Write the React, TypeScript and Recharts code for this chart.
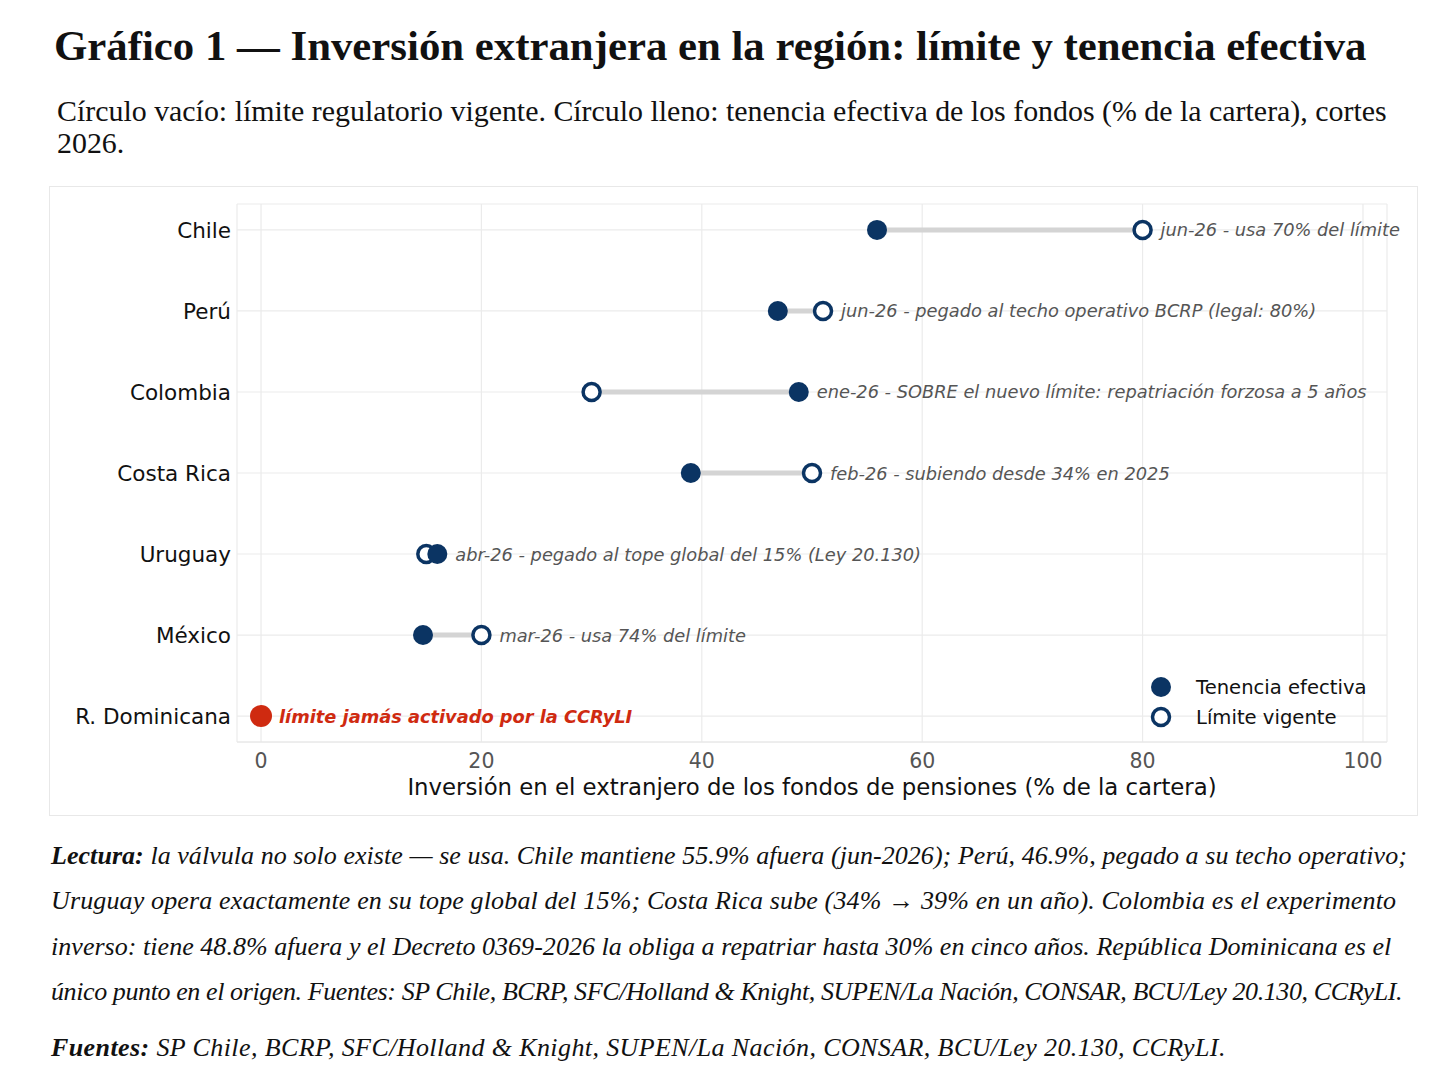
import React from "react";
import {
  ScatterChart,
  Scatter,
  XAxis,
  YAxis,
  CartesianGrid,
} from "recharts";

// Datos (cortes 2026, % de la cartera)
const PAISES = ["Chile", "Perú", "Colombia", "Costa Rica", "Uruguay", "México", "R. Dominicana"];
const TENENCIA = [55.9, 46.9, 48.8, 39.0, 16.0, 14.7, 0];
const LIMITE: (number | null)[] = [80, 51, 30, 50, 15, 20, null];
const NOTAS = [
  "jun-26 - usa 70% del límite",
  "jun-26 - pegado al techo operativo BCRP (legal: 80%)",
  "ene-26 - SOBRE el nuevo límite: repatriación forzosa a 5 años",
  "feb-26 - subiendo desde 34% en 2025",
  "abr-26 - pegado al tope global del 15% (Ley 20.130)",
  "mar-26 - usa 74% del límite",
  "límite jamás activado por la CCRyLI",
];
const X_TICKS = [0, 20, 40, 60, 80, 100];
const SIN_LIMITE = 6; // R. Dominicana

const NAVY = "#0b3463";
const RED = "#cf2a10";
const SERIF = "'Liberation Serif', 'DejaVu Serif', serif";
const SANS = "'DejaVu Sans', sans-serif";

const tenenciaData = PAISES.map((p, i) => ({ x: TENENCIA[i], y: i, pais: p })).filter((d) => d.y !== SIN_LIMITE);
const limiteData = PAISES.map((p, i) => ({ x: LIMITE[i], y: i, pais: p })).filter((d) => d.x !== null);
const origenData = [{ x: TENENCIA[SIN_LIMITE], y: SIN_LIMITE }];
const notaData = PAISES.map((p, i) => ({
  x: Math.max(TENENCIA[i], LIMITE[i] ?? TENENCIA[i]),
  y: i,
  nota: NOTAS[i],
}));

const Lleno = (props: any) => <circle cx={props.cx} cy={props.cy} r={10} fill={NAVY} />;
const Vacio = (props: any) => (
  <circle cx={props.cx} cy={props.cy} r={8.5} fill="#fff" stroke={NAVY} strokeWidth={3.5} />
);
const Origen = (props: any) => <circle cx={props.cx} cy={props.cy} r={11} fill={RED} />;
const Nada = () => <g />;
const Nota = (props: any) => {
  const rd = props.payload.y === SIN_LIMITE;
  return (
    <text
      x={props.cx + 18}
      y={props.cy}
      dominantBaseline="central"
      fontStyle="italic"
      fontWeight={rd ? "bold" : "normal"}
      fontSize={17.8}
      fill={rd ? RED : "#555"}
      fontFamily={SANS}
    >
      {props.payload.nota}
    </text>
  );
};

const Leyenda = () => (
  <svg width={260} height={60} style={{ position: "absolute", left: 1150, top: 676 }}>
    <circle cx={11} cy={11} r={10} fill={NAVY} />
    <text x={46} y={11} dominantBaseline="central" fontSize={19.6} fill="#111" fontFamily={SANS}>
      Tenencia efectiva
    </text>
    <circle cx={11} cy={41} r={8.5} fill="#fff" stroke={NAVY} strokeWidth={3.5} />
    <text x={46} y={41} dominantBaseline="central" fontSize={19.6} fill="#111" fontFamily={SANS}>
      Límite vigente
    </text>
  </svg>
);

const linea = (ls: number): React.CSSProperties => ({ display: "block", letterSpacing: `${ls}px` });

export default function App() {
  return (
    <div style={{ position: "absolute", left: 0, top: 0, width: 1448, height: 1086, background: "#fff" }}>
      <div
        style={{
          position: "absolute",
          left: 54,
          top: 24,
          fontFamily: SERIF,
          fontWeight: "bold",
          fontSize: 42.8,
          lineHeight: "44px",
          color: "#111",
          whiteSpace: "nowrap",
        }}
      >
        Gráfico 1 — Inversión extranjera en la región: límite y tenencia efectiva
      </div>
      <div
        style={{
          position: "absolute",
          left: 57,
          top: 95,
          fontFamily: SERIF,
          fontSize: 29.9,
          lineHeight: "32px",
          color: "#111",
          whiteSpace: "nowrap",
        }}
      >
        Círculo vacío: límite regulatorio vigente. Círculo lleno: tenencia efectiva de los fondos (% de la cartera), cortes
        <br />
        2026.
      </div>

      <div
        style={{
          position: "absolute",
          left: 49,
          top: 186,
          width: 1367,
          height: 628,
          border: "1px solid #e8e8e8",
          fontFamily: SANS,
        }}
      >
        <ScatterChart
          width={1367}
          height={628}
          margin={{ top: 17, right: 30, bottom: 0, left: 7 }}
          style={{ overflow: "visible" }}
        >
          <CartesianGrid stroke="#ebebeb" strokeWidth={1.2} />
          <XAxis
            type="number"
            dataKey="x"
            domain={[-2.18, 102.18]}
            ticks={X_TICKS}
            height={73}
            tickLine={false}
            axisLine={{ stroke: "#e6e6e6" }}
            tickMargin={5}
            tick={{ fill: "#555", fontSize: 20.5, fontFamily: SANS }}
            label={{
              value: "Inversión en el extranjero de los fondos de pensiones (% de la cartera)",
              position: "insideBottom",
              offset: 20,
              fill: "#111",
              fontSize: 22.8,
              fontFamily: SANS,
            }}
          />
          <YAxis
            type="number"
            dataKey="y"
            domain={[-0.32, 6.32]}
            reversed
            ticks={[0, 1, 2, 3, 4, 5, 6]}
            width={180}
            tickLine={false}
            axisLine={false}
            tickMargin={0}
            tickFormatter={(v: number) => PAISES[v]}
            tick={{ fill: "#111", fontSize: 21.5, fontFamily: SANS }}
          />
          {PAISES.map((p, i) =>
            LIMITE[i] === null ? null : (
              <Scatter
                key={p}
                data={[
                  { x: TENENCIA[i], y: i },
                  { x: LIMITE[i], y: i },
                ]}
                line={{ stroke: "#d4d4d4", strokeWidth: 5 }}
                shape={Nada}
                isAnimationActive={false}
                legendType="none"
              />
            )
          )}
          <Scatter name="Límite vigente" data={limiteData} shape={Vacio} isAnimationActive={false} />
          <Scatter name="Tenencia efectiva" data={tenenciaData} shape={Lleno} isAnimationActive={false} />
          <Scatter data={origenData} shape={Origen} isAnimationActive={false} legendType="none" />
          <Scatter data={notaData} shape={Nota} isAnimationActive={false} legendType="none" />
        </ScatterChart>
      </div>
      <Leyenda />

      <div
        style={{
          position: "absolute",
          left: 51,
          top: 833,
          fontFamily: SERIF,
          fontStyle: "italic",
          fontSize: 26,
          lineHeight: "45.3px",
          color: "#111",
          whiteSpace: "nowrap",
        }}
      >
        <span style={linea(0.05)}>
          <b>Lectura:</b> la válvula no solo existe — se usa. Chile mantiene 55.9% afuera (jun-2026); Perú, 46.9%, pegado a su techo operativo;
        </span>
        <span style={linea(0.14)}>
          Uruguay opera exactamente en su tope global del 15%; Costa Rica sube (34% → 39% en un año). Colombia es el experimento
        </span>
        <span style={linea(0.04)}>
          inverso: tiene 48.8% afuera y el Decreto 0369-2026 la obliga a repatriar hasta 30% en cinco años. República Dominicana es el
        </span>
        <span style={linea(-0.4)}>
          único punto en el origen. Fuentes: SP Chile, BCRP, SFC/Holland &amp; Knight, SUPEN/La Nación, CONSAR, BCU/Ley 20.130, CCRyLI.
        </span>
      </div>
      <div
        style={{
          position: "absolute",
          left: 51,
          top: 1025,
          fontFamily: SERIF,
          fontStyle: "italic",
          fontSize: 26,
          letterSpacing: "0.4px",
          lineHeight: "45px",
          color: "#111",
          whiteSpace: "nowrap",
        }}
      >
        <b>Fuentes:</b> SP Chile, BCRP, SFC/Holland &amp; Knight, SUPEN/La Nación, CONSAR, BCU/Ley 20.130, CCRyLI.
      </div>
    </div>
  );
}
